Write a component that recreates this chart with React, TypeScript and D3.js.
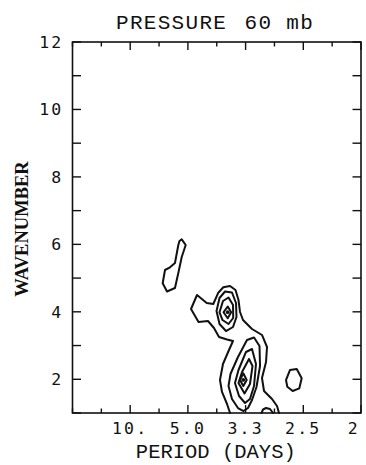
import React from "react";
import * as d3 from "d3";

const WIDTH = 366;
const HEIGHT = 465;

// Axis extents: frequency in cycles/day, zonal wavenumber
const FREQ_DOMAIN: [number, number] = [0, 0.5];
const WAVE_DOMAIN: [number, number] = [1, 12];

// Frequency ticks (every 0.05 c/d) and the period labels on the 0.1 c/d ticks
const FREQ_TICKS = d3.range(11).map((i) => i * 0.05);
const PERIOD_TICK_FREQS = [0.1, 0.2, 0.3, 0.4, 0.5];
const PERIOD_LABELS = ["10.", "5.0", "3.3", "2.5", "2"];

// Wavenumber ticks and labels
const WAVE_TICKS = d3.range(1, 13);
const WAVE_LABELS = [2, 4, 6, 8, 10, 12];

// Contour rings as [frequency, wavenumber] vertices
const blobWave5: [number, number][] = [
  [0.1893, 6.15], [0.1962, 5.981], [0.1893, 5.625], [0.1834, 5.151],
  [0.1776, 4.706], [0.1638, 4.602], [0.1563, 4.846], [0.1603, 5.24],
  [0.169, 5.32], [0.1776, 5.447], [0.1834, 5.981], [0.1854, 6.1],
];

// outermost level, enclosing both maxima; both ends reach wavenumber 1
const outerMain: [number, number][] = [
  [0.273, 1.0], [0.2678, 1.267], [0.2591, 1.623], [0.2556, 1.978],
  [0.2608, 2.453], [0.2712, 2.868], [0.2782, 3.135], [0.2678, 3.179],
  [0.2539, 3.253], [0.2452, 3.52], [0.2348, 3.728], [0.2184, 3.698],
  [0.2054, 4.084], [0.2158, 4.499], [0.2326, 4.261], [0.244, 4.232],
  [0.2527, 4.567], [0.2614, 4.727], [0.273, 4.766], [0.2825, 4.647],
  [0.2877, 4.35], [0.2903, 3.995], [0.2955, 3.757], [0.3111, 3.491],
  [0.3284, 3.313], [0.3371, 2.957], [0.3354, 2.512], [0.3284, 2.038],
  [0.3319, 1.652], [0.3458, 1.415], [0.3544, 1.208], [0.3579, 1.0],
];

const bumpWave1: [number, number][] = [
  [0.3276, 1.0], [0.3302, 1.104], [0.3354, 1.148], [0.3423, 1.119], [0.3475, 1.0],
];

const ringEast: [number, number][] = [
  [0.37, 1.978], [0.377, 2.275], [0.3886, 2.305], [0.3972, 2.029],
  [0.3931, 1.732], [0.3816, 1.652], [0.3723, 1.78],
];

// maximum near wavenumber 4
const wave4Level2: [number, number][] = [
  [0.2496, 4.024], [0.2548, 4.41], [0.2643, 4.602], [0.2764, 4.573],
  [0.2834, 4.261], [0.2842, 3.846], [0.2782, 3.55], [0.266, 3.431],
  [0.2548, 3.639],
];
const wave4Level3: [number, number][] = [
  [0.2548, 3.986], [0.2608, 4.321], [0.2704, 4.425], [0.2782, 4.202],
  [0.2785, 3.817], [0.2704, 3.639], [0.26, 3.757],
];
const wave4Level4: [number, number][] = [
  [0.2617, 3.986], [0.269, 4.158], [0.275, 3.986], [0.269, 3.808],
];

// maximum near wavenumber 2
const wave2Level2: [number, number][] = [
  [0.2868, 2.66], [0.2738, 2.156], [0.2704, 1.801], [0.2764, 1.415],
  [0.2868, 1.148], [0.2964, 1.059], [0.3042, 1.148], [0.3111, 1.385],
  [0.3189, 1.771], [0.325, 2.394], [0.3241, 2.987], [0.3146, 3.239],
  [0.3024, 3.164],
];
const wave2Level3: [number, number][] = [
  [0.3007, 2.809], [0.2877, 2.275], [0.2816, 1.89], [0.2886, 1.504],
  [0.299, 1.296], [0.3076, 1.415], [0.3146, 1.801], [0.318, 2.453],
  [0.3111, 2.898],
];
const wave2Level4: [number, number][] = [
  [0.3059, 2.601], [0.2938, 2.216], [0.2877, 1.89], [0.2981, 1.578],
  [0.3076, 1.86], [0.312, 2.394],
];
const wave2Level5: [number, number][] = [
  [0.296, 2.177], [0.2903, 1.978], [0.296, 1.801], [0.3019, 1.978],
];

const PEAKS: [number, number][] = [
  [0.269, 3.99],
  [0.296, 1.98],
];

const CONTOURS: { pts: [number, number][]; closed: boolean }[] = [
  { pts: blobWave5, closed: true },
  { pts: outerMain, closed: false },
  { pts: bumpWave1, closed: false },
  { pts: ringEast, closed: true },
  { pts: wave4Level2, closed: true },
  { pts: wave4Level3, closed: true },
  { pts: wave4Level4, closed: true },
  { pts: wave2Level2, closed: true },
  { pts: wave2Level3, closed: true },
  { pts: wave2Level4, closed: true },
  { pts: wave2Level5, closed: true },
];

const PLOT = { left: 72.5, right: 361, top: 42, bottom: 413 };

export default function App() {
  const x = d3.scaleLinear().domain(FREQ_DOMAIN).range([PLOT.left, PLOT.right]);
  const y = d3.scaleLinear().domain(WAVE_DOMAIN).range([PLOT.bottom, PLOT.top]);

  const openLine = d3
    .line<[number, number]>()
    .x((d) => x(d[0]))
    .y((d) => y(d[1]))
    .curve(d3.curveLinear);
  const closedLine = d3
    .line<[number, number]>()
    .x((d) => x(d[0]))
    .y((d) => y(d[1]))
    .curve(d3.curveLinearClosed);

  const isMajor = (f: number) => PERIOD_TICK_FREQS.some((m) => Math.abs(m - f) < 1e-6);
  const tickFont = "'DejaVu Sans Mono', monospace";
  const typeFont = "'Liberation Mono', 'Courier New', monospace";

  return (
    <svg
      width={WIDTH}
      height={HEIGHT}
      style={{ position: "absolute", left: 0, top: 0, background: "#fff" }}
    >
      <rect width={WIDTH} height={HEIGHT} fill="#fff" />

      {/* title */}
      <text
        x={116}
        y={28.5}
        fontFamily={typeFont}
        fontSize={21}
        letterSpacing={1.3}
        fill="#111"
      >
        PRESSURE<tspan dx={3.5}> 60 mb</tspan>
      </text>

      {/* contours */}
      <g fill="none" stroke="#111" strokeWidth={2} strokeLinejoin="round" strokeLinecap="round">
        {CONTOURS.map((c, i) => (
          <path key={i} d={(c.closed ? closedLine : openLine)(c.pts) ?? ""} />
        ))}
      </g>
      {PEAKS.map((p, i) => (
        <circle key={i} cx={x(p[0])} cy={y(p[1])} r={1.9} fill="#111" />
      ))}

      {/* frame */}
      <rect
        x={PLOT.left}
        y={PLOT.top}
        width={PLOT.right - PLOT.left}
        height={PLOT.bottom - PLOT.top}
        fill="none"
        stroke="#111"
        strokeWidth={1.6}
      />

      {/* frequency ticks, bottom and top */}
      <g stroke="#111" strokeWidth={1.4}>
        {FREQ_TICKS.map((f, i) => {
          const len = isMajor(f) ? 8 : 4.5;
          return (
            <g key={i}>
              <line x1={x(f)} x2={x(f)} y1={PLOT.bottom} y2={PLOT.bottom - len} />
              <line x1={x(f)} x2={x(f)} y1={PLOT.top} y2={PLOT.top + len} />
            </g>
          );
        })}
        {WAVE_TICKS.map((k) => (
          <g key={k}>
            <line x1={PLOT.left} x2={PLOT.left + 8.5} y1={y(k)} y2={y(k)} />
            <line x1={PLOT.right} x2={PLOT.right - 8.5} y1={y(k)} y2={y(k)} />
          </g>
        ))}
      </g>

      {/* period labels */}
      {PERIOD_TICK_FREQS.map((f, i) => {
        const last = i === PERIOD_TICK_FREQS.length - 1;
        return (
          <text
            key={i}
            x={x(f)}
            dx={last ? -1 : 0}
            y={433.5}
            textAnchor={last ? "end" : "middle"}
            fontFamily={tickFont}
            fontSize={16.5}
            letterSpacing={2.2}
            fill="#111"
          >
            {PERIOD_LABELS[i]}
          </text>
        );
      })}

      {/* wavenumber labels */}
      {WAVE_LABELS.map((k) => (
        <text
          key={k}
          x={PLOT.left - 9}
          y={y(k)}
          dy="0.36em"
          textAnchor="end"
          fontFamily={tickFont}
          fontSize={16.5}
          letterSpacing={2.2}
          fill="#111"
        >
          {k}
        </text>
      ))}

      {/* axis titles */}
      <text
        x={215.8}
        y={458}
        textAnchor="middle"
        fontFamily={typeFont}
        fontSize={20.5}
        fill="#111"
      >
        PERIOD (DAYS)
      </text>
      <text
        transform="translate(28,229) rotate(-90)"
        textAnchor="middle"
        fontFamily="'Liberation Serif', 'Times New Roman', serif"
        fontWeight="bold"
        fontSize={18.5}
        fill="#111"
      >
        WAVENUMBER
      </text>
    </svg>
  );
}
